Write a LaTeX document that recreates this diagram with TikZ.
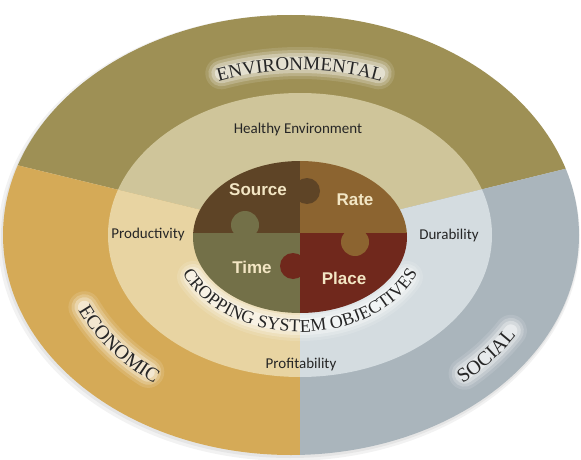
\documentclass[tikz,border=0pt]{standalone}
\usepackage{fontspec}
\setmainfont{Liberation Serif}
\setsansfont{Liberation Sans}
\newfontfamily\labelfont{Carlito}
\usetikzlibrary{decorations.text}

\definecolor{envouter}{HTML}{9E9055}
\definecolor{econouter}{HTML}{D5AA57}
\definecolor{socouter}{HTML}{AAB5BC}
\definecolor{envinner}{HTML}{CFC59A}
\definecolor{econinner}{HTML}{E8D4A2}
\definecolor{socinner}{HTML}{D4DCE0}
\definecolor{source}{HTML}{5E4426}
\definecolor{rate}{HTML}{8C6430}
\definecolor{time}{HTML}{737048}
\definecolor{place}{HTML}{70281C}
\definecolor{piecetext}{HTML}{F3E6C4}

\newcommand\titlesize{\fontsize{19}{22}\selectfont}
\newcommand\ringsize{\fontsize{18}{21}\selectfont}
\newcommand\sidesize{\fontsize{20}{23}\selectfont}

\begin{document}
\begin{tikzpicture}[x=1pt,y=1pt,
    title/.style={decorate,decoration={text along path,text align=center,text color=black!85}},
    glow/.style={white,line cap=round},
    piece/.style={font=\sffamily\bfseries\fontsize{17}{20}\selectfont,text=piecetext},
    goal/.style={font=\labelfont\fontsize{15}{18}\selectfont,text=black!85}]
  \path[use as bounding box,fill=white] (0,0) rectangle (581,459);
  \coordinate (c) at (300,225);

  % soft shadow
  \fill[black,opacity=0.05] (289,221) ellipse [x radius=291, y radius=223];
  \fill[black,opacity=0.05] (290,222) ellipse [x radius=289, y radius=221];

  % rings
  \foreach \cx/\rx/\ry/\ring in {291/288/220/outer,300/192/142/inner}{
    \begin{scope}
      \clip (\cx,224) ellipse [x radius=\rx, y radius=\ry];
      \fill[fill=env\ring] (c) -- (0,298) -- (0,459) -- (581,459) -- (581,294) -- cycle;
      \fill[fill=econ\ring] (c) -- (0,298) -- (0,0) -- (300,0) -- cycle;
      \fill[fill=soc\ring] (c) -- (300,0) -- (581,0) -- (581,294) -- cycle;
    \end{scope}
  }

  % glow behind the titles
  \foreach \w/\o in {32/0.12,26/0.2,20/0.3,13/0.45}{
    \draw[glow,line width=\w,opacity=\o,shift={(c)}] (110:230 and 171) arc[start angle=110,end angle=70,x radius=230,y radius=171];
    \draw[glow,line width=\w,opacity=\o,shift={(300,222)}] (207:120 and 88) arc[start angle=207,end angle=333,x radius=120,y radius=88];
    \draw[glow,line width=\w,opacity=\o,shift={(c)}] (204:236 and 180) arc[start angle=204,end angle=230,x radius=236,y radius=180];
    \draw[glow,line width=\w,opacity=\o,shift={(c)}] (312:246 and 188) arc[start angle=312,end angle=329,x radius=246,y radius=188];
  }

  % puzzle
  \begin{scope}
    \clip (300,222) ellipse [x radius=107, y radius=76];
    \fill[source] (190,226) rectangle (300,300);
    \fill[rate] (300,226) rectangle (410,300);
    \fill[time] (190,140) rectangle (300,226);
    \fill[place] (300,140) rectangle (410,226);
    \fill[source] (307,268) circle (13);
    \fill[time] (245,234) circle (14);
    \fill[place] (293,193) circle (13);
    \fill[rate] (355,217) circle (14);
  \end{scope}

  \node[piece] (src) at (258,269) {Source};
  \node[piece] (rte) at (355,259) {Rate};
  \node[piece] (tme) at (252,192) {Time};
  \node[piece] (plc) at (344,181) {Place};

  \node[goal] (healthy) at (298,329) {Healthy Environment};
  \node[goal] (productivity) at (148,225) {Productivity};
  \node[goal] (durability) at (449,224) {Durability};
  \node[goal] (profitability) at (301,95) {Profitability};

  % curved titles
  \path[title,shift={(c)},decoration={text={|\titlesize|ENVIRONMENTAL}}]
    (125:223 and 164) arc[start angle=125,end angle=55,x radius=223,y radius=164];
  \path[title,shift={(300,222)},decoration={text={|\ringsize|CROPPING SYSTEM OBJECTIVES}}]
    (185:127 and 95) arc[start angle=185,end angle=355,x radius=127,y radius=95];
  \path[title,shift={(c)},decoration={text={|\sidesize|ECONOMIC}}]
    (190:243 and 187) arc[start angle=190,end angle=245,x radius=243,y radius=187];
  \path[title,shift={(c)},decoration={text={|\sidesize|SOCIAL}}]
    (300:253 and 195) arc[start angle=300,end angle=340,x radius=253,y radius=195];
\end{tikzpicture}
\end{document}
